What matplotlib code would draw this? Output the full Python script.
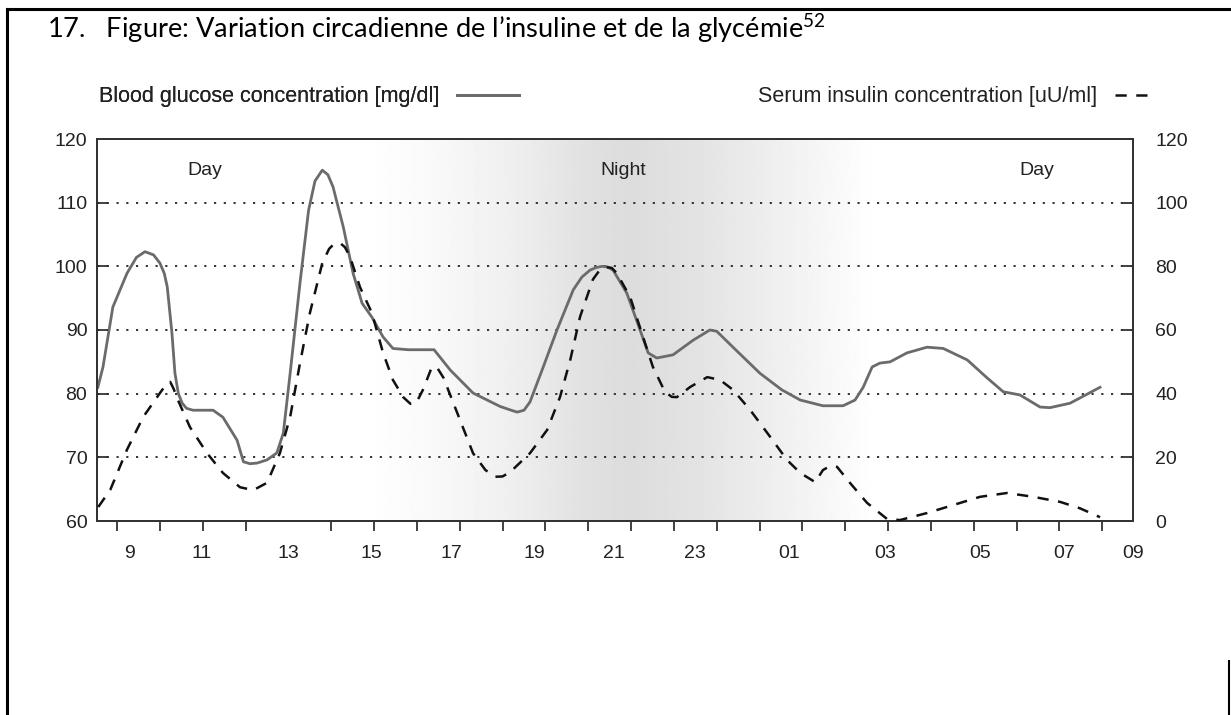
import numpy as np
import matplotlib
matplotlib.use("Agg")
import matplotlib.pyplot as plt
from matplotlib.lines import Line2D

plt.rcParams['font.family'] = ['Liberation Sans', 'DejaVu Sans']
plt.rcParams['mathtext.fontset'] = 'custom'
plt.rcParams['mathtext.rm'] = 'Lato'

# heures (9 = 09:00, 24 = minuit, 32 = 08:00 le lendemain)
glucose_h = [8.55, 8.67, 8.9, 9.23, 9.45, 9.65, 9.85, 10.0, 10.1, 10.17, 10.28, 10.35,
             10.43, 10.52, 10.62, 10.77, 11.24, 11.47, 11.8, 11.95, 12.1, 12.27, 12.5,
             12.73, 12.88, 13.04, 13.27, 13.47, 13.62, 13.79, 13.92, 14.04, 14.28,
             14.51, 14.72, 14.95, 15.21, 15.44, 15.8, 16.4, 16.78, 17.31, 17.94,
             18.2, 18.34, 18.5, 18.64, 18.95, 19.27, 19.65, 19.85, 20.04, 20.18,
             20.32, 20.45, 20.58, 20.9, 21.21, 21.4, 21.6, 21.98, 22.45, 22.84, 23.0,
             23.38, 24.01, 24.52, 24.95, 25.48, 25.95, 26.23, 26.42, 26.63, 26.81,
             27.05, 27.44, 27.91, 28.29, 28.85, 29.31, 29.69, 30.08, 30.55, 30.78,
             31.25, 31.95]
glucose = [81.0, 84.2, 93.6, 98.9, 101.4, 102.3, 101.8, 100.5, 98.9, 96.8, 89.5, 83.2,
           80.0, 78.5, 77.7, 77.4, 77.4, 76.3, 72.7, 69.3, 69.0, 69.1, 69.6,
           70.7, 73.8, 83.2, 97.4, 108.8, 113.4, 115.1, 114.4, 112.5, 106.2,
           98.9, 94.2, 92.0, 88.9, 87.1, 86.9, 86.9, 83.7, 80.1, 78.0,
           77.4, 77.1, 77.4, 78.7, 84.2, 90.0, 96.3, 98.3, 99.4, 99.8,
           100.0, 99.9, 99.4, 95.8, 90.0, 86.4, 85.6, 86.1, 88.4, 90.0, 89.8,
           87.3, 83.2, 80.6, 79.0, 78.1, 78.1, 79.0, 81.0, 84.2, 84.8,
           85.0, 86.4, 87.3, 87.1, 85.3, 82.5, 80.3, 79.8, 77.9, 77.8,
           78.5, 81.0]

insulin_h = [8.56, 8.84, 9.23, 9.61, 10.0, 10.15, 10.24, 10.32, 10.42, 10.7, 11.1,
             11.47, 11.87, 12.18, 12.5, 12.8, 13.04, 13.27, 13.5, 13.79, 13.95, 14.04,
             14.2, 14.32, 14.44, 14.67, 14.95, 15.21, 15.44, 15.68, 15.85, 15.98,
             16.14, 16.35, 16.48, 16.62, 16.94, 17.31, 17.6, 17.83, 18.0, 18.18,
             18.64, 19.04, 19.34, 19.58, 19.81, 20.11, 20.25, 20.4, 20.55, 20.67,
             20.98, 21.28, 21.51, 21.79, 21.95, 22.07, 22.38, 22.78, 23.08, 23.38,
             23.78, 24.25, 24.64, 24.95, 25.3, 25.48, 25.65, 25.81, 26.11, 26.51,
             26.98, 27.28, 27.91, 28.52, 29.15, 29.78, 30.39, 31.02, 31.48, 31.95]
insulin = [4.4, 9.8, 22.4, 32.7, 40.2, 43.0, 43.7, 41.5, 38.0, 29.5, 21.3,
           15.1, 10.6, 9.7, 12.0, 21.3, 32.7, 49.6, 65.3, 81.0, 85.5, 86.7,
           87.4, 86.0, 82.9, 73.5, 65.3, 52.8, 44.3, 38.9, 36.8, 37.0,
           41.2, 48.4, 48.0, 45.0, 34.0, 21.3, 16.0, 13.9, 14.0, 15.4,
           21.3, 28.6, 38.9, 50.6, 64.2, 75.9, 78.5, 79.8, 79.5, 77.8,
           70.3, 57.8, 48.4, 40.6, 39.0, 38.9, 42.1, 45.2, 44.3, 41.2,
           34.9, 26.4, 19.2, 15.1, 12.2, 16.0, 17.3, 17.0, 12.0, 5.7,
           0.6, 0.3, 2.5, 5.0, 7.6, 8.8, 7.6, 6.0, 4.0, 1.2]

# étiquettes de l'axe x (placées comme dans l'original, décalées des graduations)
xlabel_pos = [9.28, 10.98, 13.0, 14.93, 16.8, 18.74, 20.61, 22.5, 24.69, 26.93, 29.15, 31.11, 32.72]
xlabel_txt = ['9', '11', '13', '15', '17', '19', '21', '23', '01', '03', '05', '07', '09']
hour_ticks = list(range(9, 33))

# fond jour / nuit
shade_h = [8.5, 14.8, 16.5, 18.5, 20.0, 21.0, 22.5, 24.5, 26.7, 32.8]
shade_v = [1.0, 1.0, 0.975, 0.93, 0.88, 0.865, 0.89, 0.94, 1.0, 1.0]

xmin, xmax = 8.53, 32.72

fig = plt.figure(figsize=(12.31, 7.15), dpi=100)
ax = fig.add_axes([97/1231, 1-521/715, (1133-97)/1231, (521-139)/715])

xs = np.linspace(xmin, xmax, 600)
ax.imshow(np.interp(xs, shade_h, shade_v)[None, :], cmap='gray', vmin=0, vmax=1,
          extent=(xmin, xmax, 60, 120), aspect='auto', zorder=0, interpolation='bilinear')

line_g, = ax.plot(glucose_h, glucose, color='#6b6b6b', lw=2.0, zorder=3,
                  solid_joinstyle='round', label='Blood glucose concentration [mg/dl]')
ax.set_xlim(xmin, xmax)
ax.set_ylim(60, 120)

ax2 = ax.twinx()
line_i, = ax2.plot(insulin_h, insulin, color='#111111', lw=1.8, dashes=(4.5, 3.8), zorder=3,
                   dash_joinstyle='round', label='Serum insulin concentration [uU/ml]')
ax2.set_ylim(0, 120)

for y in [70, 80, 90, 100, 110]:
    ax.axhline(y, color='#222222', lw=1.3, linestyle=(0, (1.2, 4.2)), zorder=2)

for a in (ax, ax2):
    for s in a.spines.values():
        s.set_color('#333333')
        s.set_linewidth(1.4)

ax.set_yticks([60, 70, 80, 90, 100, 110, 120])
ax.tick_params(axis='y', direction='in', length=8, width=1.3, color='#333333',
               labelsize=14, pad=7, labelcolor='#222222')
ax2.set_yticks([0, 20, 40, 60, 80, 100, 120])
ax2.tick_params(axis='y', direction='in', length=8, width=1.3, color='#333333',
                labelsize=14, pad=16, labelcolor='#222222')

ax.set_xticks(xlabel_pos)
ax.set_xticklabels(xlabel_txt)
ax.set_xticks(hour_ticks, minor=True)
ax.tick_params(axis='x', which='major', length=0, pad=17, labelsize=14, labelcolor='#222222')
ax.tick_params(axis='x', which='minor', direction='out', length=7, width=1.3, color='#333333')

ax.text(11.05, 115.1, 'Day', ha='center', va='center', fontsize=14, color='#222222', zorder=4)
ax.text(20.81, 115.1, 'Night', ha='center', va='center', fontsize=14, color='#222222', zorder=4)
ax.text(30.48, 115.1, 'Day', ha='center', va='center', fontsize=14, color='#222222', zorder=4)

leg1 = ax.legend(handles=[line_g], loc='lower left', bbox_to_anchor=(-0.006, 1.06),
                 frameon=False, markerfirst=False, handlelength=2.9, fontsize=15.5,
                 borderaxespad=0, labelcolor='#222222')
ax.add_artist(leg1)
ax2.legend(handles=[line_i], loc='lower right', bbox_to_anchor=(1.03, 1.06),
           frameon=False, markerfirst=False, handlelength=1.9, fontsize=15.5,
           borderaxespad=0, labelcolor='#222222')

fig.text(47/1231, 1-28/715,
         '17.   Figure: Variation circadienne de l\u2019insuline et de la glycémie$^{52}$',
         fontsize=19.6, family=['Lato', 'DejaVu Sans'], va='center', ha='left', color='black')

# cadre du document
fig.add_artist(Line2D([7/1231, 7/1231], [0, 1-9/715], transform=fig.transFigure, color='black', lw=2.2))
fig.add_artist(Line2D([7/1231, 1], [1-9/715, 1-9/715], transform=fig.transFigure, color='black', lw=2.2))
fig.add_artist(Line2D([1229/1231, 1229/1231], [0, 1-661/715], transform=fig.transFigure, color='black', lw=1.5))

fig.savefig('out.png', dpi=100)
